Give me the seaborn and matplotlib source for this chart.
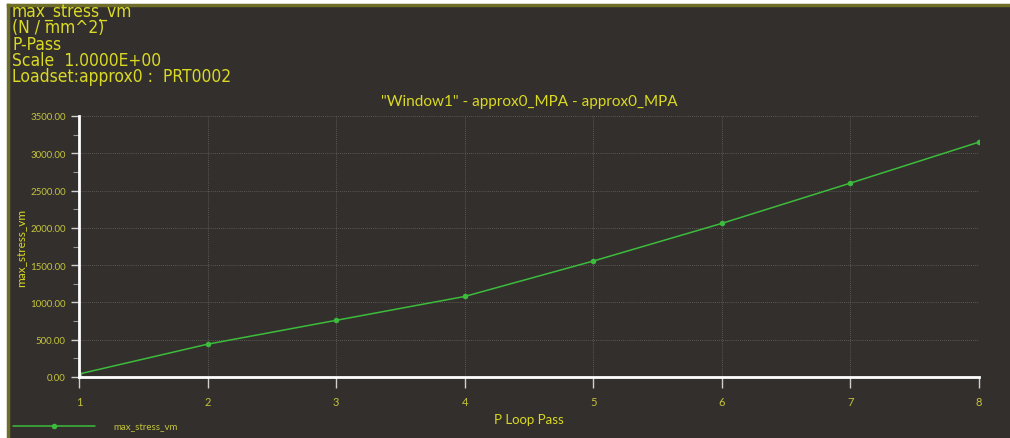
import seaborn as sns
import pandas as pd
import matplotlib.pyplot as plt
from matplotlib.ticker import MultipleLocator, FormatStrFormatter

# values
passes = [1, 2, 3, 4, 5, 6, 7, 8]
max_stress_vm = [40, 440, 760, 1080, 1555, 2060, 2600, 3150]

header = ["max_stress_vm", "(N / mm^2)", "P-Pass", "Scale  1.0000E+00", "Loadset:approx0 :  PRT0002"]
title = '"Window1" - approx0_MPA - approx0_MPA'

bg = "#332f2c"
yellow = "#dada24"
olive = "#c4c43c"
green = "#3cbc3c"

sns.set_theme(style="dark")
plt.rcParams["font.family"] = ["Lato", "DejaVu Sans"]

df = pd.DataFrame({"P Loop Pass": passes, "max_stress_vm": max_stress_vm})

fig = plt.figure(figsize=(10.10, 4.39), dpi=100)
fig.patch.set_facecolor("white")

# dark panel with the olive frame on top and left
panel = fig.add_axes([7.5 / 1010, 0, 1 - 7.5 / 1010, 1 - 6 / 439])
panel.set_facecolor(bg)
panel.set_xticks([])
panel.set_yticks([])
for s in ["right", "bottom"]:
    panel.spines[s].set_visible(False)
for s in ["top", "left"]:
    panel.spines[s].set_color("#6e6e28")
    panel.spines[s].set_linewidth(2.5)

ax = fig.add_axes([79 / 1010, 61 / 439, 900 / 1010, 261 / 439])
ax.set_facecolor(bg)
sns.lineplot(data=df, x="P Loop Pass", y="max_stress_vm", ax=ax, color=green,
             marker="o", markersize=4, markeredgewidth=0, linewidth=1.1,
             label="max_stress_vm", legend=False)

ax.set_xlim(1, 8)
ax.set_ylim(0, 3500)
ax.xaxis.set_major_locator(MultipleLocator(1))
ax.yaxis.set_major_locator(MultipleLocator(500))
ax.yaxis.set_minor_locator(MultipleLocator(250))
ax.yaxis.set_major_formatter(FormatStrFormatter("%.2f"))
ax.grid(True, which="major", color="#8a8a8a", linestyle=(0, (1, 1.5)), linewidth=0.6, alpha=0.6)

for s in ["top", "right"]:
    ax.spines[s].set_visible(False)
for s in ["left", "bottom"]:
    ax.spines[s].set_color("white")
    ax.spines[s].set_linewidth(2)

ax.tick_params(axis="y", which="major", direction="out", length=6, width=1, color="#cfcfcf",
               labelsize=7, labelcolor=olive, left=True)
ax.tick_params(axis="y", which="minor", direction="out", length=4, width=0.8, color="#9a9a9a", left=True)
ax.tick_params(axis="x", direction="out", length=8, width=1, color="#cfcfcf",
               labelsize=8, labelcolor=olive, bottom=True, pad=6)

ax.set_xlabel("P Loop Pass", color=yellow, fontsize=9.5, labelpad=4)
ax.set_ylabel("max_stress_vm", color=yellow, fontsize=8.5, labelpad=3)
ax.set_title(title, color=yellow, fontsize=11, pad=8)

fig.text(12 / 1010, 1 - 3 / 439, "\n".join(header), color=yellow, fontsize=12.5,
         family=["DejaVu Sans"], stretch="condensed", va="top", ha="left", linespacing=0.88)

# legend entry at the bottom left
fig.legend(handles=ax.get_lines()[:1], labels=["max_stress_vm"], loc="lower left",
           bbox_to_anchor=(4 / 1010, -2 / 439), frameon=False, fontsize=7,
           labelcolor=olive, handlelength=8.5, handletextpad=1.8)

fig.savefig("out.png", dpi=100, facecolor=fig.get_facecolor())
